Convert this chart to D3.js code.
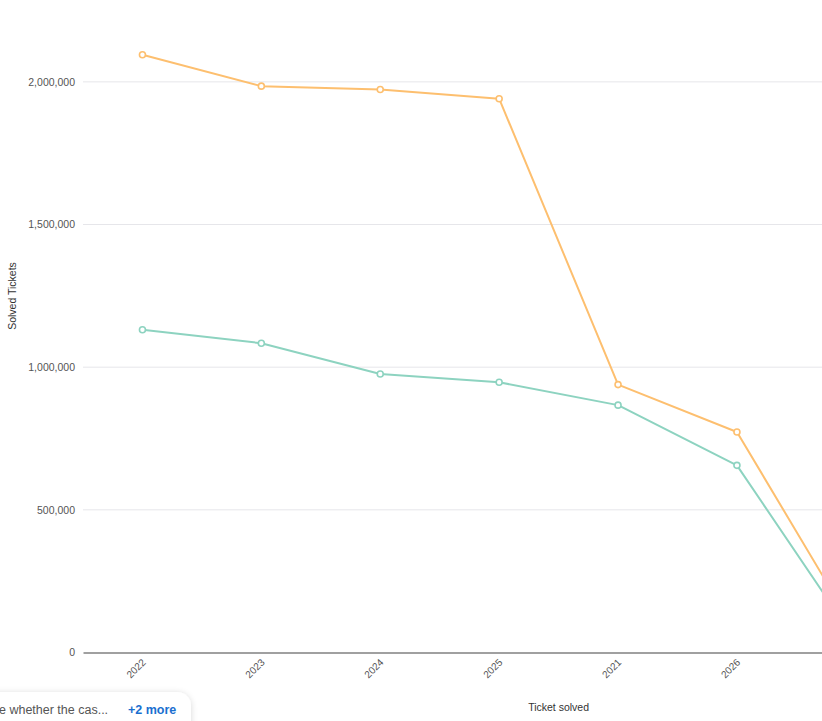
<!DOCTYPE html>
<html>
<head>
<meta charset="utf-8">
<script src="https://cdn.jsdelivr.net/npm/d3@7"></script>
<style>
  html, body { margin: 0; padding: 0; background: #fff; overflow: hidden; }
  svg { display: block; font-family: "Liberation Sans", Arial, Helvetica, sans-serif; }
</style>
</head>
<body>
<svg id="chart" width="822" height="721"></svg>
<script>
// ---- data ----
const categories = ["2022", "2023", "2024", "2025", "2021", "2026", "(No value)", "2020"];
const seriesA = [2095000, 1985000, 1973000, 1941000, 939000, 773000, 74000, 12000];   // orange
const seriesB = [1131000, 1084000, 976000, 947000, 867000, 656000, 40000, 6000];      // teal
const yTicks = [0, 500000, 1000000, 1500000, 2000000];
const xTitle = "Ticket solved";
const yTitle = "Solved Tickets";
const legendText = "e whether the cas...";
const legendMore = "+2 more";

const colors = { A: "#fdbf6f", B: "#8dd3c0" };

const svg = d3.select("#chart");
const left = 83, step = 118.9;
const x = d3.scalePoint().domain(categories).range([left, left + step * categories.length]).padding(0.5);
const y = d3.scaleLinear().domain([0, 2200000]).range([652.5, 24.8]);
const right = left + step * categories.length;

// gridlines
const grid = svg.append("g");
grid.selectAll("line").data(yTicks.filter(d => d > 0)).join("line")
  .attr("x1", left).attr("x2", right)
  .attr("y1", d => y(d)).attr("y2", d => y(d))
  .attr("stroke", "#e6e6ea").attr("stroke-width", 1);

// y axis labels
const yAxis = d3.axisLeft(y).tickValues(yTicks).tickSize(0).tickPadding(8)
  .tickFormat(d3.format(","));
const gy = svg.append("g").attr("transform", `translate(${left},0)`).call(yAxis);
gy.select(".domain").remove();
gy.selectAll("text").attr("fill", "#555").style("font-size", "10.5px")
  .attr("font-family", "'Liberation Sans', Arial, sans-serif");

// x axis
const xAxis = d3.axisBottom(x).tickSize(0).tickPadding(8);
const gx = svg.append("g").attr("transform", `translate(0,${y(0)})`).call(xAxis);
gx.select(".domain").attr("stroke", "#808080").attr("stroke-width", 1.3);
gx.selectAll("text")
  .attr("fill", "#555").style("font-size", "10px")
  .attr("font-family", "'Liberation Sans', Arial, sans-serif")
  .attr("text-anchor", "end")
  .attr("x", 0).attr("y", 0).attr("dy", "0.35em")
  .attr("transform", "translate(1,8) rotate(-45)");

// titles
svg.append("text").attr("x", (left + right) / 2).attr("y", 711)
  .attr("text-anchor", "middle").attr("fill", "#333").style("font-size", "10.5px")
  .text(xTitle);
svg.append("text").attr("transform", "translate(16,296) rotate(-90)")
  .attr("text-anchor", "middle").attr("fill", "#333").style("font-size", "10.5px")
  .text(yTitle);

// lines
const line = d3.line().x((d, i) => x(categories[i])).y(d => y(d));
[[seriesB, colors.B], [seriesA, colors.A]].forEach(([vals, col]) => {
  svg.append("path").datum(vals).attr("d", line)
    .attr("fill", "none").attr("stroke", col).attr("stroke-width", 2)
    .attr("stroke-linejoin", "round");
  svg.append("g").selectAll("circle").data(vals).join("circle")
    .attr("cx", (d, i) => x(categories[i])).attr("cy", d => y(d))
    .attr("r", 3).attr("fill", "#fff").attr("stroke", col).attr("stroke-width", 1.6);
});

// legend pill overlay
const defs = svg.append("defs");
const f = defs.append("filter").attr("id", "sh").attr("x", "-20%").attr("y", "-50%")
  .attr("width", "140%").attr("height", "200%");
f.append("feDropShadow").attr("dx", 0).attr("dy", 1).attr("stdDeviation", 3)
  .attr("flood-color", "#000").attr("flood-opacity", 0.16);
svg.append("rect").attr("x", -30).attr("y", 692).attr("width", 221).attr("height", 48)
  .attr("rx", 14).attr("fill", "#fff").attr("filter", "url(#sh)");
svg.append("text").attr("x", -1).attr("y", 714).attr("fill", "#555")
  .style("font-size", "12.5px").attr("font-family", "'Liberation Sans', Arial, sans-serif")
  .text(legendText);
svg.append("text").attr("x", 128).attr("y", 714).attr("fill", "#1a6fcf")
  .style("font-size", "12.5px").style("font-weight", "bold")
  .attr("font-family", "'Liberation Sans', Arial, sans-serif")
  .text(legendMore);
</script>
</body>
</html>
